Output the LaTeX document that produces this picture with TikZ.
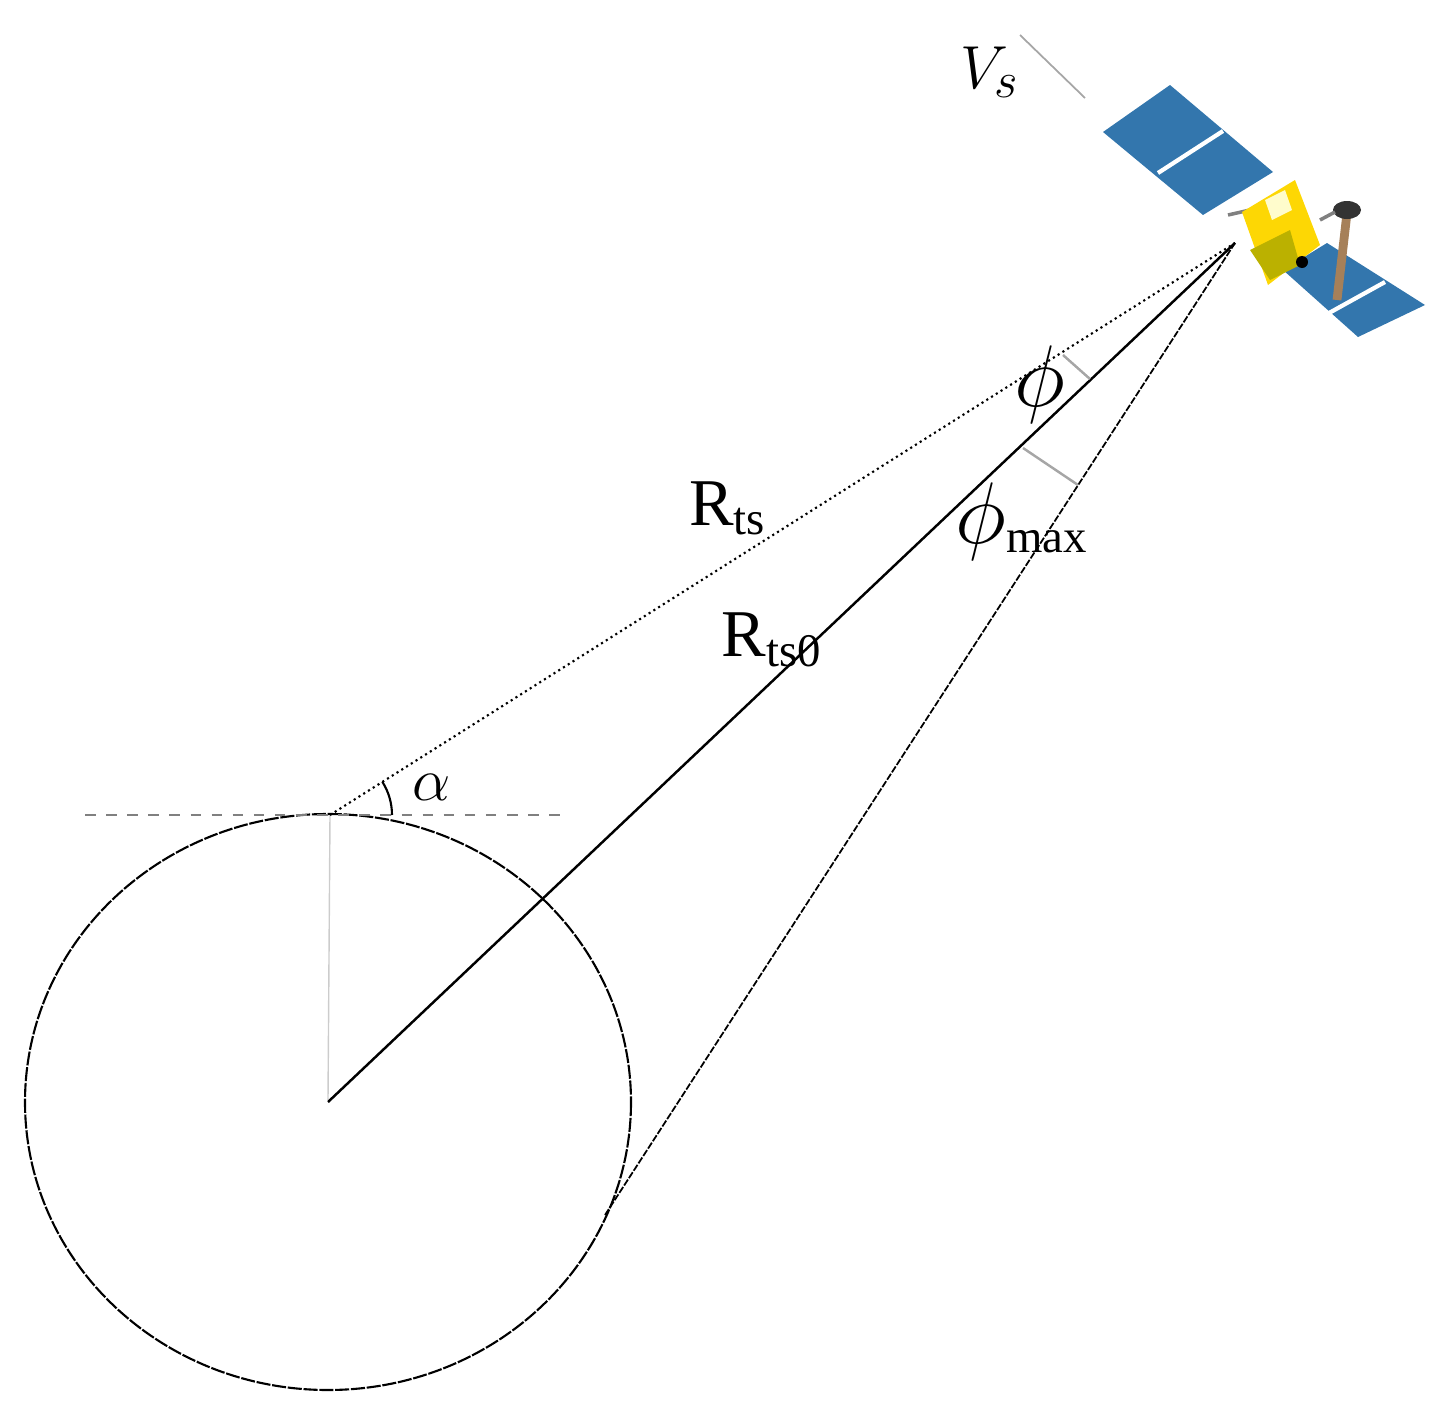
\documentclass[tikz,border=0pt]{standalone}
\usepackage{fontspec}
\setmainfont{Liberation Serif}
\begin{document}
\begin{tikzpicture}[x=0.01cm,y=-0.01cm,
  lbl/.style={inner sep=0pt,font=\fontsize{19}{22}\selectfont},
  thin line/.style={line width=0.5pt},
  panel/.style={fill=blue!45!cyan!60!black!80,draw=none},
  tick/.style={gray!70,line width=0.7pt}]
\useasboundingbox (0,0) rectangle (1451,1409);
\coordinate (S) at (1235,243);
\coordinate (O) at (328,1102);
\coordinate (T) at (330,815);
\coordinate (P) at (605,1215);
% earth
\draw[line width=0.6pt,dash pattern=on 4pt off 0.5pt] (O) ellipse [x radius=303,y radius=288];
\draw[gray,dashed,line width=0.6pt] (85,815) -- (570,815);
\draw[gray!40,line width=0.4pt] (T) -- (328,1100);
% lines
\draw[line width=0.6pt,densely dotted] (T) -- (S);
\draw[line width=0.7pt] (O) -- (S);
\draw[line width=0.5pt,dash pattern=on 2pt off 0.5pt] (P) -- (S);
% ticks
\draw[tick] (1063,355) -- (1090,379);
\draw[tick] (1023,448) -- (1078,485);
% alpha arc
\draw[line width=0.6pt] (392,815) arc[start angle=0,end angle=-32.4,radius=62];
\node[lbl] (al) at (432,787) {$\alpha$};
\node[lbl] (rts) at (728,508) {R$_{\mathrm{ts}}$};
\node[lbl] (rts0) at (772,640) {R$_{\mathrm{ts0}}$};
\node[lbl,font=\fontsize{24}{26}\selectfont] (ph) at (1040,385) {$\phi$};
\node[lbl] (phm) at (1022,522) {{\fontsize{24}{26}\selectfont$\phi$}$_{\mathrm{max}}$};
\node[lbl] (vs) at (990,72) {$V_s$};
\draw[gray!70,line width=0.5pt] (1020,35) -- (1085,98);
% satellite
\fill[panel] (1103,132) -- (1170,85) -- (1273,172) -- (1203,215) -- cycle;
\draw[white,line width=1.2pt] (1158,173) -- (1223,131);
\fill[panel] (1283,270) -- (1327,243) -- (1425,305) -- (1358,337) -- cycle;
\draw[white,line width=1.2pt] (1320,318) -- (1385,282);
\draw[gray,line width=1pt] (1228,215) -- (1250,210);
\draw[brown!60!gray,line width=2.5pt] (1347,213) -- (1337,300);
\fill[yellow!75!orange] (1242,212) -- (1295,180) -- (1320,245) -- (1268,285) -- cycle;
\fill[olive!60!yellow] (1250,250) -- (1290,230) -- (1300,265) -- (1270,280) -- cycle;
\fill[white!80!yellow] (1265,200) -- (1285,190) -- (1292,210) -- (1272,220) -- cycle;
\fill[black] (1302,262) circle[radius=6];
\fill[gray!40!black] (1347,210) ellipse[x radius=14,y radius=9];
\draw[gray,line width=1pt] (1320,220) -- (1335,212);
\end{tikzpicture}
\end{document}
